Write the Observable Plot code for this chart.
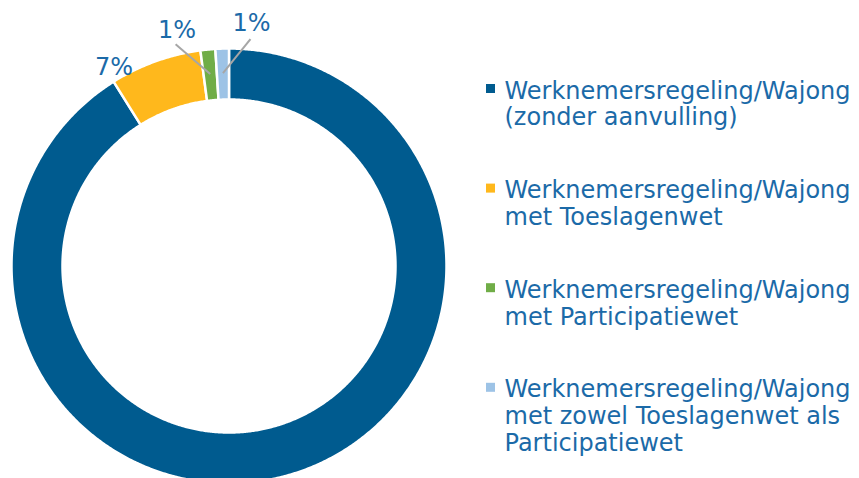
<!DOCTYPE html>
<html><head><meta charset="utf-8">
<script src="https://cdn.jsdelivr.net/npm/d3@7"></script>
<script src="https://cdn.jsdelivr.net/npm/@observablehq/plot@0.6"></script>
<style>html,body{margin:0;padding:0;background:#fff;}</style>
</head><body><div id="chart"></div>
<script>
// ---- data ----
const categories = [
  "Werknemersregeling/Wajong\n(zonder aanvulling)",
  "Werknemersregeling/Wajong\nmet Toeslagenwet",
  "Werknemersregeling/Wajong\nmet Participatiewet",
  "Werknemersregeling/Wajong\nmet zowel Toeslagenwet als\nParticipatiewet"
];
const shares = [91.1, 6.8, 1.1, 1.0];
const valueLabels = ["", "7%", "1%", "1%"];

// ---- styles / layout ----
const colors = ["#005b8f", "#ffb81c", "#70ad47", "#9dc3e6"];
const textColor = "#1b6aa8";
const W = 859, H = 478;
const cx = 228.5, cy = 265.5, rOuter = 217.5, rInner = 166.5;
const fontFamily = "DejaVu Sans, Verdana, sans-serif";
const fontSize = 24;
// label placement in polar coords (deg clockwise from north, radius), text baseline centre
const labelPlace = [null, {a: -31.05, r: 223}, {a: -12.83, r: 234}, {a: 5.47, r: 236}];
const leaderPlace = [null, null, {a: -13.55, r: 228}, {a: 5.4, r: 228}];
const leaderInnerR = 193;
const legendX = 504, legendBase = 98, legendStep = 99.6, lineStep = 26.8;

const rad = d => d * Math.PI / 180;
const px = (a, r) => cx + r * Math.sin(rad(a));
const py = (a, r) => cy - r * Math.cos(rad(a));

// slices
const total = d3.sum(shares);
let acc = 0;
const arcs = shares.map((v, i) => {
  const a0 = acc / total * 360; acc += v; const a1 = acc / total * 360;
  return {i, cat: categories[i], a0, a1, mid: (a0 + a1) / 2};
});
const poly = [];
for (const s of arcs) {
  const n = Math.max(2, Math.ceil((s.a1 - s.a0) / 0.4));
  const pts = [];
  for (let k = 0; k <= n; k++) { const a = s.a0 + (s.a1 - s.a0) * k / n; pts.push([px(a, rOuter), py(a, rOuter)]); }
  for (let k = n; k >= 0; k--) { const a = s.a0 + (s.a1 - s.a0) * k / n; pts.push([px(a, rInner), py(a, rInner)]); }
  pts.push(pts[0]);
  for (const [x, y] of pts) poly.push({cat: s.cat, x, y});
}

const labels = arcs.filter(s => valueLabels[s.i]).map(s => ({
  text: valueLabels[s.i], x: px(labelPlace[s.i].a, labelPlace[s.i].r), y: py(labelPlace[s.i].a, labelPlace[s.i].r)
}));
const leaders = arcs.filter(s => leaderPlace[s.i]).map(s => ({
  x1: px(leaderPlace[s.i].a, leaderPlace[s.i].r), y1: py(leaderPlace[s.i].a, leaderPlace[s.i].r),
  x2: px(s.mid, leaderInnerR), y2: py(s.mid, leaderInnerR)
}));

const legendLines = [];
const legendKeys = [];
categories.forEach((c, i) => {
  const base = legendBase + i * legendStep;
  legendKeys.push({cat: c, x1: legendX - 18, x2: legendX - 9, y1: base - 14, y2: base - 5});
  c.split("\n").forEach((t, j) => legendLines.push({text: t, x: legendX, y: base + j * lineStep}));
});

const chart = Plot.plot({
  width: W, height: H,
  margin: 0,
  x: {domain: [0, W], range: [0, W], axis: null},
  y: {domain: [0, H], range: [0, H], axis: null},
  color: {domain: categories, range: colors},
  style: {fontFamily, background: "#fff"},
  marks: [
    Plot.line(poly, {x: "x", y: "y", z: "cat", fill: "cat", stroke: "#fff", strokeWidth: 2.5, curve: "linear"}),
    Plot.link(leaders, {x1: "x1", y1: "y1", x2: "x2", y2: "y2", stroke: "#a6a6a6", strokeWidth: 2}),
    Plot.text(labels, {x: "x", y: "y", text: "text", textAnchor: "middle", lineAnchor: "bottom", fontSize, fill: textColor, fontFamily}),
    Plot.rect(legendKeys, {x1: "x1", x2: "x2", y1: "y1", y2: "y2", fill: "cat"}),
    Plot.text(legendLines, {x: "x", y: "y", text: "text", textAnchor: "start", lineAnchor: "bottom", fontSize, fill: textColor, fontFamily})
  ]
});
document.getElementById("chart").append(chart);
</script>
</body></html>
